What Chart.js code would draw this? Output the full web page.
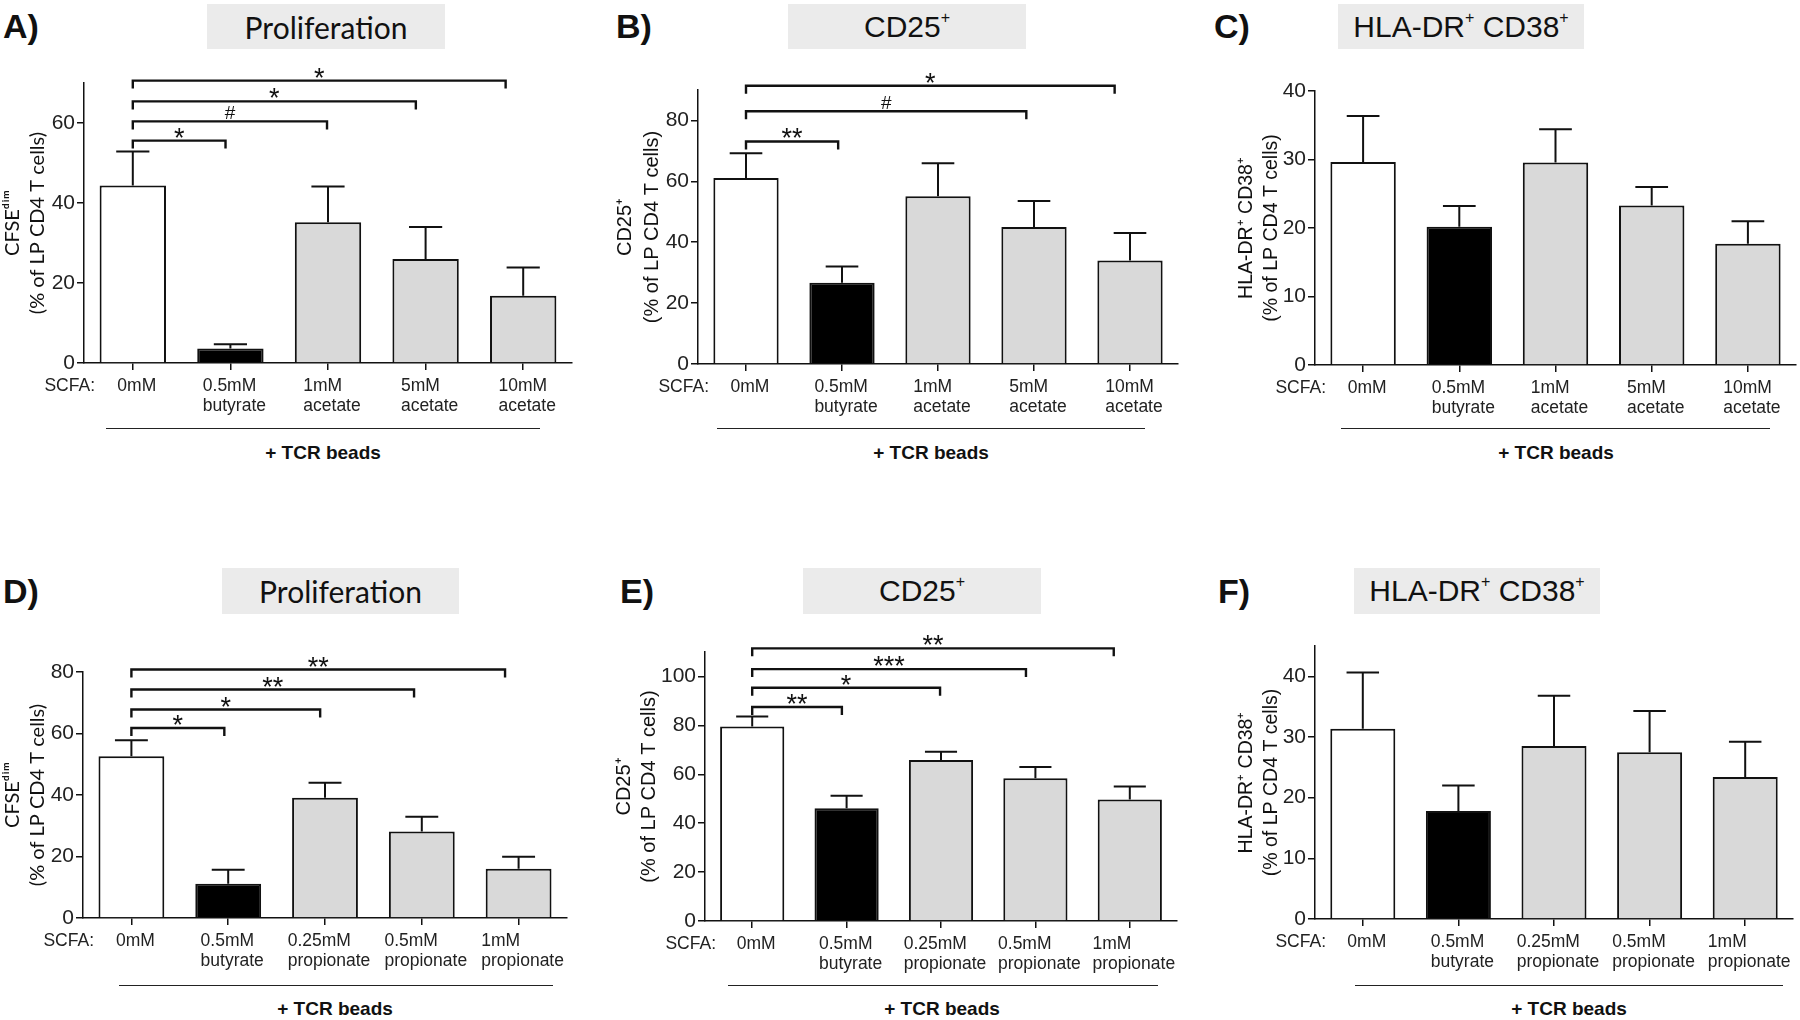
<!DOCTYPE html>
<html>
<head>
<meta charset="utf-8">
<script src="https://cdn.jsdelivr.net/npm/chart.js@4.4.1/dist/chart.umd.min.js"></script>
<style>
body { margin: 0; background: #fff; }
#fig { position: relative; width: 1800px; height: 1020px; overflow: hidden; font-family: "Liberation Sans", Arial, sans-serif; color: #111; }
canvas { position: absolute; }
.lbl { position: absolute; font-weight: bold; font-size: 34px; line-height: 34px; }
.ttl { position: absolute; background: #ebebeb; font-size: 30px; line-height: 46px; text-align: center; white-space: nowrap; }
.ttl sup { font-size: 16px; vertical-align: baseline; position: relative; top: -14px; }
.rule { position: absolute; height: 0; border-top: 1.5px solid #222; }
.tcr { position: absolute; font-weight: bold; font-size: 19px; transform: translate(-50%, -50%); white-space: nowrap; }
</style>
</head>
<body>
<div id="fig">
  <div class="lbl" style="left:3px;top:9px">A)</div>
  <div class="lbl" style="left:616px;top:9px">B)</div>
  <div class="lbl" style="left:1214px;top:9px">C)</div>
  <div class="lbl" style="left:3px;top:574px">D)</div>
  <div class="lbl" style="left:620px;top:574px">E)</div>
  <div class="lbl" style="left:1218px;top:574px">F)</div>

  <div class="ttl" style="left:207px;top:4px;width:238px;height:45px;font-family:Lato">Proliferation</div>
  <div class="ttl" style="left:788px;top:4px;width:238px;height:45px">CD25<sup>+</sup></div>
  <div class="ttl" style="left:1338px;top:4px;width:246px;height:45px">HLA-DR<sup>+</sup>&nbsp;CD38<sup>+</sup></div>
  <div class="ttl" style="left:222px;top:568px;width:237px;height:46px;font-family:Lato">Proliferation</div>
  <div class="ttl" style="left:803px;top:568px;width:238px;height:46px">CD25<sup>+</sup></div>
  <div class="ttl" style="left:1354px;top:568px;width:246px;height:46px">HLA-DR<sup>+</sup>&nbsp;CD38<sup>+</sup></div>

  <div class="rule" style="left:106px;top:428px;width:434px"></div>
  <div class="rule" style="left:717px;top:428px;width:428px"></div>
  <div class="rule" style="left:1341px;top:428px;width:429px"></div>
  <div class="rule" style="left:119px;top:985px;width:434px"></div>
  <div class="rule" style="left:728px;top:985px;width:430px"></div>
  <div class="rule" style="left:1355px;top:985px;width:428px"></div>

  <div class="tcr" style="left:323px;top:453px">+ TCR beads</div>
  <div class="tcr" style="left:931px;top:453px">+ TCR beads</div>
  <div class="tcr" style="left:1556px;top:453px">+ TCR beads</div>
  <div class="tcr" style="left:335px;top:1009px">+ TCR beads</div>
  <div class="tcr" style="left:942px;top:1009px">+ TCR beads</div>
  <div class="tcr" style="left:1569px;top:1009px">+ TCR beads</div>
</div>
<script>
const acetateLabels = [['0mM'], ['0.5mM', 'butyrate'], ['1mM', 'acetate'], ['5mM', 'acetate'], ['10mM', 'acetate']]
const propionateLabels = [['0mM'], ['0.5mM', 'butyrate'], ['0.25mM', 'propionate'], ['0.5mM', 'propionate'], ['1mM', 'propionate']]
const barColors = ['#ffffff', '#000000', '#d9d9d9', '#d9d9d9', '#d9d9d9']

// means and SEM (upper error bar only)
const prolifAcetate = [44.4, 3.6, 35.2, 26.0, 16.8]
const prolifAcetateSem = [8.5, 1.1, 8.9, 8.0, 7.1]
const cd25Acetate = [61.1, 26.7, 55.1, 45.0, 34.0]
const cd25AcetateSem = [8.1, 5.3, 10.8, 8.5, 9.0]
const hlaAcetate = [29.65, 20.2, 29.55, 23.3, 17.7]
const hlaAcetateSem = [6.7, 3.0, 4.85, 2.7, 3.3]

const prolifPropionate = [52.6, 11.1, 39.1, 28.1, 16.0]
const prolifPropionateSem = [5.2, 4.6, 4.9, 4.8, 3.9]
const cd25Propionate = [79.5, 46.1, 65.8, 58.4, 49.7]
const cd25PropionateSem = [4.1, 5.1, 3.4, 4.6, 5.3]
const hlaPropionate = [31.35, 17.8, 28.5, 27.5, 23.4]
const hlaPropionateSem = [9.3, 4.2, 8.3, 6.8, 5.8]

// significance brackets: from / to category index, height in axis units
const prolifAcetateBrackets = [
  {from: 0, to: 0.95, y: 55.6, text: '*'},
  {from: 0, to: 1.99, y: 60.4, text: '#'},
  {from: 0, to: 2.9, y: 65.4, text: '*'},
  {from: 0, to: 3.82, y: 70.6, text: '*'}
]
const cd25AcetateBrackets = [
  {from: 0, to: 0.96, y: 73.1, text: '**'},
  {from: 0, to: 2.92, y: 83, text: '#'},
  {from: 0, to: 3.84, y: 91.4, text: '*'}
]
const prolifPropionateBrackets = [
  {from: 0, to: 0.96, y: 61.8, text: '*'},
  {from: 0, to: 1.95, y: 67.8, text: '*'},
  {from: 0, to: 2.92, y: 74.3, text: '**'},
  {from: 0, to: 3.86, y: 80.8, text: '**'}
]
const cd25PropionateBrackets = [
  {from: 0, to: 0.95, y: 87.5, text: '**'},
  {from: 0, to: 1.99, y: 95.4, text: '*'},
  {from: 0, to: 2.9, y: 103, text: '***'},
  {from: 0, to: 3.83, y: 111.5, text: '**'}
]

const titleProlif = ['CFSE\u1D48\u2071\u1D50', '(% of LP CD4 T cells)']
const titleCd25 = ['CD25\u207A', '(% of LP CD4 T cells)']
const titleHla = ['HLA-DR\u207A CD38\u207A', '(% of LP CD4 T cells)']

const FONT = '"Liberation Sans", Arial, sans-serif'
const LABEL_FONT = '17.5px ' + FONT

const panels = [
  {left: 0, top: 50, width: 580, height: 370, axisX: 84, plotTop: 83, plotRight: 572, zeroY: 363,
   labels: acetateLabels, values: prolifAcetate, sem: prolifAcetateSem, brackets: prolifAcetateBrackets,
   yMax: 70, step: 20, title: titleProlif, titleFamily: 'Lato', titleSize: 20, titleLine: 25},
  {left: 612, top: 50, width: 578, height: 370, axisX: 698, plotTop: 90, plotRight: 1178, zeroY: 364,
   labels: acetateLabels, values: cd25Acetate, sem: cd25AcetateSem, brackets: cd25AcetateBrackets,
   yMax: 90, step: 20, title: titleCd25, titleFamily: FONT, titleSize: 20, titleLine: 27},
  {left: 1234, top: 50, width: 566, height: 370, axisX: 1315, plotTop: 91, plotRight: 1796, zeroY: 365,
   labels: acetateLabels, values: hlaAcetate, sem: hlaAcetateSem, brackets: [],
   yMax: 40, step: 10, title: titleHla, titleFamily: FONT, titleSize: 19.5, titleLine: 25},
  {left: 0, top: 610, width: 580, height: 365, axisX: 83, plotTop: 672, plotRight: 567, zeroY: 918,
   labels: propionateLabels, values: prolifPropionate, sem: prolifPropionateSem, brackets: prolifPropionateBrackets,
   yMax: 80, step: 20, title: titleProlif, titleFamily: 'Lato', titleSize: 20, titleLine: 25},
  {left: 612, top: 610, width: 578, height: 365, axisX: 705, plotTop: 652, plotRight: 1177, zeroY: 921,
   labels: propionateLabels, values: cd25Propionate, sem: cd25PropionateSem, brackets: cd25PropionateBrackets,
   yMax: 110, step: 20, title: titleCd25, titleFamily: FONT, titleSize: 20, titleLine: 25},
  {left: 1234, top: 610, width: 566, height: 365, axisX: 1315, plotTop: 646, plotRight: 1793, zeroY: 919,
   labels: propionateLabels, values: hlaPropionate, sem: hlaPropionateSem, brackets: [],
   yMax: 45, step: 10, title: titleHla, titleFamily: FONT, titleSize: 19.5, titleLine: 25}
]

// error bars, brackets, category labels and the "SCFA:" row label
const marks = {
  id: 'marks',
  afterDatasetsDraw(chart, args, opts) {
    const {ctx, scales: {x, y}, chartArea} = chart
    const meta = chart.getDatasetMeta(0)
    ctx.save()
    ctx.strokeStyle = '#111'
    ctx.lineWidth = 2
    opts.sem.forEach((s, i) => {
      const bar = meta.data[i]
      const top = y.getPixelForValue(opts.values[i] + s)
      const half = bar.width / 4
      ctx.beginPath()
      ctx.moveTo(bar.x, bar.y)
      ctx.lineTo(bar.x, top)
      ctx.moveTo(bar.x - half, top)
      ctx.lineTo(bar.x + half, top)
      ctx.stroke()
    })

    ctx.lineWidth = 2.4
    ctx.fillStyle = '#111'
    ctx.textAlign = 'center'
    ctx.textBaseline = 'alphabetic'
    opts.brackets.forEach(b => {
      const x0 = x.getPixelForValue(b.from)
      const x1 = x.getPixelForValue(b.to)
      const yy = y.getPixelForValue(b.y)
      ctx.beginPath()
      ctx.moveTo(x0, yy + 8)
      ctx.lineTo(x0, yy)
      ctx.lineTo(x1, yy)
      ctx.lineTo(x1, yy + 8)
      ctx.stroke()
      if (b.text === '#') {
        ctx.font = '19px ' + FONT
        ctx.fillText(b.text, (x0 + x1) / 2, yy - 2)
      } else {
        ctx.font = '27px ' + FONT
        ctx.fillText(b.text, (x0 + x1) / 2, yy + 6)
      }
    })

    // category labels: lines left-aligned, block roughly centred on the tick
    ctx.font = LABEL_FONT
    ctx.fillStyle = '#222'
    ctx.textAlign = 'left'
    ctx.textBaseline = 'middle'
    const firstLine = x.top + 23
    opts.labels.forEach((lines, i) => {
      const w = Math.max(...lines.map(l => ctx.measureText(l).width))
      const left = x.getPixelForTick(i) - w / 2 + 4
      lines.forEach((l, k) => ctx.fillText(l, left, firstLine + k * 20))
    })

    ctx.textAlign = 'right'
    ctx.fillText('SCFA:', chartArea.left + 11, firstLine)
    ctx.restore()
  }
}

const fig = document.getElementById('fig')

panels.forEach(p => {
  const cv = document.createElement('canvas')
  cv.width = p.width
  cv.height = p.height
  cv.style.left = p.left + 'px'
  cv.style.top = p.top + 'px'
  fig.appendChild(cv)

  new Chart(cv, {
    type: 'bar',
    data: {
      labels: p.labels,
      datasets: [{
        data: p.values,
        backgroundColor: barColors,
        borderColor: '#111',
        borderWidth: 2,
        barPercentage: 0.68,
        categoryPercentage: 1
      }]
    },
    options: {
      responsive: false,
      animation: false,
      devicePixelRatio: 1,
      layout: {padding: {left: 0, bottom: 0, top: p.plotTop - p.top, right: p.left + p.width - p.plotRight}},
      plugins: {
        legend: {display: false},
        tooltip: {enabled: false},
        marks: {values: p.values, sem: p.sem, brackets: p.brackets, labels: p.labels}
      },
      scales: {
        x: {
          offset: true,
          grid: {offset: false, drawOnChartArea: false, color: '#111', lineWidth: 1.5, tickLength: 7},
          border: {color: '#111', width: 1.5},
          ticks: {display: false, autoSkip: false, maxRotation: 0},
          afterFit: s => { s.height = p.top + p.height - p.zeroY }
        },
        y: {
          min: 0,
          max: p.yMax,
          grid: {drawOnChartArea: false, color: '#111', lineWidth: 1.5, tickLength: 7},
          border: {color: '#111', width: 1.5},
          ticks: {stepSize: p.step, color: '#222', padding: 2, font: {family: FONT, size: 21}},
          afterBuildTicks: s => { s.ticks = s.ticks.filter(t => t.value % p.step === 0) },
          afterFit: s => { s.width = p.axisX - p.left },
          title: {
            display: true,
            text: p.title,
            color: '#111',
            padding: 0,
            font: {family: p.titleFamily, size: p.titleSize, lineHeight: p.titleLine + 'px'}
          }
        }
      }
    },
    plugins: [marks]
  })
})
</script>
</body>
</html>
